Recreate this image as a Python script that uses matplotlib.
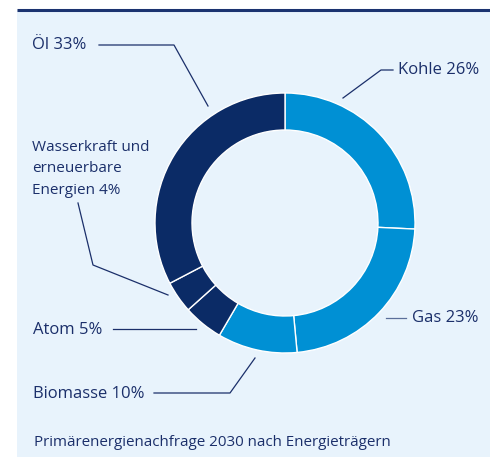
import matplotlib.pyplot as plt
from matplotlib.patches import Rectangle

categories = ["Kohle", "Gas", "Biomasse", "Atom", "Wasserkraft und\nerneuerbare\nEnergien", "Öl"]
values = [26, 23, 10, 5, 4, 33]
colors = ["#0090d4", "#0090d4", "#0090d4", "#0b2b66", "#0b2b66", "#0b2b66"]
footer = "Primärenergienachfrage 2030 nach Energieträgern"

W, H = 490, 457
fig = plt.figure(figsize=(W / 100, H / 100), dpi=100)
fig.patch.set_facecolor("white")
ax = fig.add_axes([0, 0, 1, 1])
ax.set_xlim(0, W)
ax.set_ylim(0, H)
ax.set_aspect("equal")
ax.axis("off")

def Y(y):
    return H - y

txt_c = "#1b2f6a"
plt.rcParams['font.family'] = ['Open Sans', 'DejaVu Sans']

# panel
ax.add_patch(Rectangle((17, 0), W - 17, Y(10), facecolor="#e8f3fc", edgecolor="none", zorder=0))
ax.plot([17, W], [Y(10), Y(10)], color="#1b3370", lw=2.2, solid_capstyle="butt", zorder=1)

cx, cy, R, r = 285, Y(223), 130, 93
ax.pie(values, colors=colors, startangle=90, counterclock=False,
       center=(cx, cy), radius=R, frame=True,
       wedgeprops=dict(width=R - r, edgecolor="white", linewidth=1.0))
ax.set_xlim(0, W)
ax.set_ylim(0, H)
ax.axis("off")

fs = 12
lc = txt_c
lw = 0.9

def line(pts, color=lc):
    xs = [p[0] for p in pts]
    ys = [Y(p[1]) for p in pts]
    ax.plot(xs, ys, color=color, lw=lw, zorder=3)

labels = [f"{c} {v}%" for c, v in zip(categories, values)]

# Kohle
ax.text(398, Y(70), labels[0], fontsize=fs, color=txt_c, va="center", ha="left")
line([(343, 98), (381, 70), (393, 70)])
# Gas
ax.text(412, Y(318), labels[1], fontsize=fs, color=txt_c, va="center", ha="left")
line([(386, 318), (406, 318)], color="#5b6f9a")
# Biomasse
ax.text(33, Y(394), labels[2], fontsize=fs, color=txt_c, va="center", ha="left")
line([(154, 393), (230, 393), (255, 358)])
# Atom
ax.text(33, Y(330), labels[3], fontsize=fs, color=txt_c, va="center", ha="left")
line([(113, 329), (196, 329)])
# Wasserkraft
ax.text(32, Y(169), labels[4], fontsize=11, color=txt_c, va="center", ha="left", linespacing=1.6)
line([(78, 203), (93, 265), (168, 295)])
# Öl
ax.text(32, Y(45), labels[5], fontsize=fs, color=txt_c, va="center", ha="left")
line([(99, 45), (174, 45), (208, 106)])

ax.text(34, Y(443), footer, fontsize=10.9, color=txt_c, va="center", ha="left")

fig.savefig("out.png", dpi=100, facecolor=fig.get_facecolor())
